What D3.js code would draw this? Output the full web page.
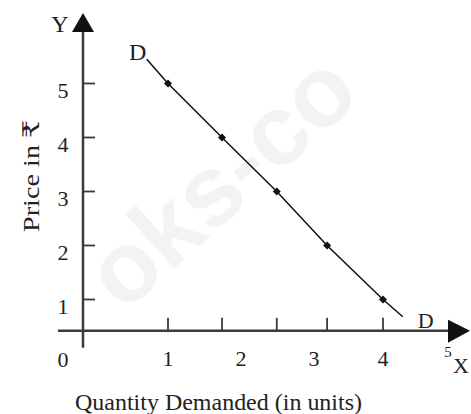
<!DOCTYPE html>
<html>
<head>
<meta charset="utf-8">
<script src="https://cdn.jsdelivr.net/npm/d3@7"></script>
<style>
  html, body { margin: 0; padding: 0; background: #ffffff; }
  svg { display: block; }
  text { font-family: "Liberation Serif", "DejaVu Serif", serif; fill: #222; }
</style>
</head>
<body>
<div id="chart"></div>
<script>
// ---- data ----
const prices = [5, 4, 3, 2, 1];                    // Price in ₹ at each marked point
const quantities = [1, 1.74, 2.49, 3.19, 4];       // Quantity demanded at each point
const curveStart = { q: 0.75, p: 5.45 };           // where the D line begins
const curveEnd = { q: 4.3, p: 0.68 };              // where the D line ends
const xTickLabels = ["1", "2", "3", "4"];
const xTickLabelValues = [1, 2, 3, 4];
const yTickValues = [1, 2, 3, 4, 5];
const xAxisCrossesAt = 0.42;                        // hand-drawn: x axis sits a bit below price 1
const xLabelText = "Quantity Demanded (in units)";
const yLabelText = "Price in ₹";

const W = 471, H = 414;
const svg = d3.select("#chart").append("svg").attr("width", W).attr("height", H);

// watermark (faint)
svg.append("text")
  .attr("transform", "translate(220,180) rotate(-42)")
  .attr("text-anchor", "middle")
  .attr("dominant-baseline", "central")
  .style("font-family", "Liberation Sans, Arial, sans-serif")
  .style("font-weight", "bold")
  .style("font-size", "100px")
  .style("fill", "#f3f3f3")
  .text("oks-co");

// scales (hand-drawn axis: label spacing is uneven, so piecewise linear in x)
const x = d3.scaleLinear().domain([0, 1, 2, 3, 4, 5]).range([83, 168, 241, 314, 383, 449]);
const y = d3.scaleLinear().domain([1, 5]).range([299.5, 83.5]);
const y0 = y(xAxisCrossesAt);

const axisColor = "#3a3a3a";
const g = svg.append("g");

// X axis line
g.append("line").attr("x1", x(0) - 25).attr("x2", x(5) + 1)
  .attr("y1", y0).attr("y2", y0)
  .attr("stroke", axisColor).attr("stroke-width", 2.5);
// X arrow
g.append("path")
  .attr("d", d3.line()([[x(5) - 1, y0 - 11], [x(5) + 21, y0], [x(5) - 1, y0 + 12]]) + "Z")
  .attr("fill", "#111");

// Y axis line
g.append("line").attr("x1", x(0)).attr("x2", x(0))
  .attr("y1", y0 + 17).attr("y2", 32)
  .attr("stroke", axisColor).attr("stroke-width", 2.5);
// Y arrow
g.append("path")
  .attr("d", d3.line()([[x(0) - 11, 32], [x(0), 13], [x(0) + 11, 32]]) + "Z")
  .attr("fill", "#111");

// x tick marks (at the demand points)
g.selectAll(".xtick").data(quantities).join("line")
  .attr("x1", d => x(d)).attr("x2", d => x(d))
  .attr("y1", y0).attr("y2", y0 - 13)
  .attr("stroke", axisColor).attr("stroke-width", 1.8);

// y tick marks
g.selectAll(".ytick").data(yTickValues).join("line")
  .attr("x1", x(0)).attr("x2", x(0) + 12)
  .attr("y1", d => y(d)).attr("y2", d => y(d))
  .attr("stroke", axisColor).attr("stroke-width", 1.8);

// x tick labels
g.selectAll(".xlab").data(xTickLabelValues).join("text")
  .attr("x", d => x(d)).attr("y", y0 + 35)
  .attr("text-anchor", "middle")
  .style("font-size", "22px")
  .text((d, i) => xTickLabels[i]);
// "0" at origin
g.append("text").attr("x", x(0) - 20).attr("y", y0 + 36)
  .attr("text-anchor", "middle").style("font-size", "22px").text("0");
// small "5" and "X" at arrow tip
g.append("text").attr("x", x(5) - 1).attr("y", y0 + 26)
  .attr("text-anchor", "middle").style("font-size", "15px").text("5");
g.append("text").attr("x", x(5) + 4).attr("y", y0 + 42)
  .attr("text-anchor", "start").style("font-size", "22px").text("X");

// y tick labels
g.selectAll(".ylab").data(yTickValues).join("text")
  .attr("x", x(0) - 20).attr("y", d => y(d) + 14)
  .attr("text-anchor", "middle")
  .style("font-size", "22px")
  .text(d => d);

// "Y" label
g.append("text").attr("x", x(0) - 23).attr("y", 32)
  .attr("text-anchor", "middle").style("font-size", "24px").text("Y");

// axis titles
g.append("text").attr("x", 75).attr("y", 410)
  .attr("textLength", 287).attr("lengthAdjust", "spacingAndGlyphs")
  .style("font-size", "23px").text(xLabelText);
g.append("text")
  .attr("transform", "translate(39,176) rotate(-90)")
  .attr("text-anchor", "middle")
  .attr("textLength", 112).attr("lengthAdjust", "spacingAndGlyphs")
  .style("font-size", "23px").text(yLabelText);

// demand curve D
const linePts = [[curveStart.q, curveStart.p]]
  .concat(quantities.map((q, i) => [q, prices[i]]))
  .concat([[curveEnd.q, curveEnd.p]]);
g.append("path")
  .datum(linePts)
  .attr("d", d3.line().x(d => x(d[0])).y(d => y(d[1])))
  .attr("fill", "none").attr("stroke", "#111").attr("stroke-width", 1.5);

// points
g.selectAll(".pt").data(quantities).join("path")
  .attr("d", d3.symbol().type(d3.symbolSquare).size(32))
  .attr("transform", (d, i) => `translate(${x(d)},${y(prices[i])}) rotate(45)`)
  .attr("fill", "#111");

// D labels
g.append("text").attr("x", x(curveStart.q) - 9).attr("y", y(curveStart.p) + 1)
  .attr("text-anchor", "middle").style("font-size", "24px").text("D");
g.append("text").attr("x", x(curveEnd.q) + 23).attr("y", y(curveEnd.p) + 11)
  .attr("text-anchor", "middle").style("font-size", "22px").text("D");
</script>
</body>
</html>
